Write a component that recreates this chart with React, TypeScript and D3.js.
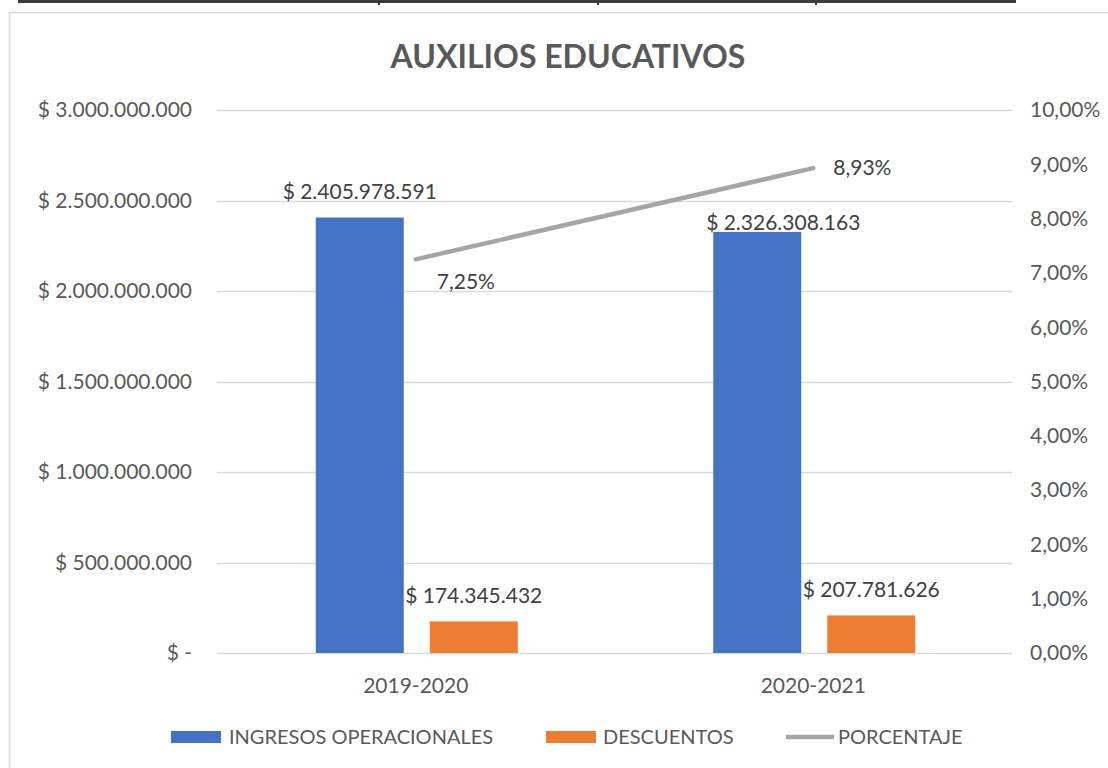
import React from "react";
import * as d3 from "d3";

const categories = ["2019-2020", "2020-2021"];
const ingresos = [2405978591, 2326308163];
const descuentos = [174345432, 207781626];
const porcentaje = [0.0725, 0.0893];
const leftTicks = [0, 500000000, 1000000000, 1500000000, 2000000000, 2500000000, 3000000000];
const rightTicks = [0, 0.01, 0.02, 0.03, 0.04, 0.05, 0.06, 0.07, 0.08, 0.09, 0.1];
const seriesNames = ["INGRESOS OPERACIONALES", "DESCUENTOS", "PORCENTAJE"];
const title = "AUXILIOS EDUCATIVOS";

const W = 1108;
const H = 768;
const FONT = "Lato, 'Open Sans', sans-serif";
const BLUE = "#4472c4";
const ORANGE = "#ed7d31";
const GRAY = "#a5a5a5";
const GRID = "#d9d9d9";
const TXT = "#595959";
const LBL = "#404040";

const plot = { left: 217, right: 1012, top: 110, bottom: 653 };

const fmtMoney = (v: number) => {
  if (v === 0) return "$ -";
  const s = Math.round(v).toString().replace(/\B(?=(\d{3})+(?!\d))/g, ".");
  return "$ " + s;
};
const fmtPct = (v: number) => (v * 100).toFixed(2).replace(".", ",") + "%";

// per-label placement tweaks (as in the original Excel rendering)
const ingLabelOffset = [
  { dx: 0, dy: -19 },
  { dx: 26, dy: -2 },
];
const pctLabelOffset = [
  { dx: 21, dy: 22, anchor: "start" },
  { dx: 20, dy: 0, anchor: "start" },
];

export default function App() {
  const x = d3.scaleBand<string>().domain(categories).range([plot.left, plot.right]).padding(0);
  const groupW = 202;
  const x1 = d3.scaleBand<string>().domain(["ing", "desc"]).range([0, groupW]).paddingInner(0.228);
  const y = d3.scaleLinear().domain([0, 3000000000]).range([plot.bottom, plot.top]);
  const y2 = d3.scaleLinear().domain([0, 0.1]).range([plot.bottom, plot.top]);

  const groupStart = (c: string) => (x(c) as number) + (x.bandwidth() - groupW) / 2 + 1;
  const cx = (c: string) => (x(c) as number) + x.bandwidth() / 2;

  const line = d3
    .line<number>()
    .x((_, i) => cx(categories[i]))
    .y((d) => y2(d));

  return (
    <svg
      width={W}
      height={H}
      style={{ position: "fixed", left: 0, top: 0, background: "#fff" }}
      fontFamily={FONT}
    >
      <rect x={0} y={0} width={W} height={H} fill="#fff" />
      {/* table edge above the chart */}
      <rect x={18} y={0} width={998} height={3} fill="#3a3a3a" />
      {[378, 597, 815].map((tx) => (
        <rect key={tx} x={tx} y={0} width={2} height={5} fill="#3a3a3a" />
      ))}
      {/* chart frame */}
      <rect x={9.5} y={12.5} width={1200} height={900} fill="#fff" stroke={GRID} strokeWidth={1.5} />

      <text x={568} y={68} textAnchor="middle" fontSize={32} fontWeight={700} fill={TXT}>
        {title}
      </text>

      {/* gridlines */}
      {leftTicks.map((t) => (
        <line key={t} x1={plot.left} x2={plot.right} y1={Math.round(y(t)) + 0.5} y2={Math.round(y(t)) + 0.5} stroke={GRID} strokeWidth={1.5} />
      ))}

      {/* left axis labels */}
      {leftTicks.map((t) => (
        <text key={"l" + t} x={192} y={y(t)} dy="0.35em" textAnchor="end" fontSize={21} fill={TXT}>
          {fmtMoney(t)}
        </text>
      ))}
      {/* right axis labels */}
      {rightTicks.map((t) => (
        <text key={"r" + t} x={1030} y={y2(t)} dy="0.35em" textAnchor="start" fontSize={21} fill={TXT}>
          {fmtPct(t)}
        </text>
      ))}

      {/* bars */}
      {categories.map((c, i) => {
        const gs = groupStart(c);
        const xi = gs + (x1("ing") as number);
        const xd = gs + (x1("desc") as number);
        const bw = x1.bandwidth();
        return (
          <g key={c}>
            <rect x={xi} y={y(ingresos[i])} width={bw} height={y(0) - y(ingresos[i])} fill={BLUE} />
            <rect x={xd} y={y(descuentos[i])} width={bw} height={y(0) - y(descuentos[i])} fill={ORANGE} />
          </g>
        );
      })}

      {/* percentage line */}
      <path d={line(porcentaje) || ""} fill="none" stroke={GRAY} strokeWidth={4.5} strokeLinecap="round" />

      {/* data labels */}
      {categories.map((c, i) => {
        const gs = groupStart(c);
        const bw = x1.bandwidth();
        const ci = gs + (x1("ing") as number) + bw / 2;
        const cd = gs + (x1("desc") as number) + bw / 2;
        return (
          <g key={"lbl" + c} fontSize={21} fill={LBL}>
            <text x={ci + ingLabelOffset[i].dx} y={y(ingresos[i]) + ingLabelOffset[i].dy} textAnchor="middle">
              {fmtMoney(ingresos[i])}
            </text>
            <text x={cd} y={y(descuentos[i]) - 18} textAnchor="middle">
              {fmtMoney(descuentos[i])}
            </text>
            <text
              x={cx(c) + pctLabelOffset[i].dx}
              y={y2(porcentaje[i]) + pctLabelOffset[i].dy}
              dy="0.35em"
              textAnchor={pctLabelOffset[i].anchor}
            >
              {fmtPct(porcentaje[i])}
            </text>
          </g>
        );
      })}

      {/* category labels */}
      {categories.map((c) => (
        <text key={"c" + c} x={cx(c)} y={686} dy="0.35em" textAnchor="middle" fontSize={21} fill={TXT}>
          {c}
        </text>
      ))}

      {/* legend */}
      <g fontSize={20} fill={TXT}>
        <rect x={171} y={731} width={50} height={12} fill={BLUE} />
        <text x={229} y={737} dy="0.35em">{seriesNames[0]}</text>
        <rect x={546} y={731} width={50} height={12} fill={ORANGE} />
        <text x={603} y={737} dy="0.35em">{seriesNames[1]}</text>
        <line x1={786} x2={834} y1={737} y2={737} stroke={GRAY} strokeWidth={4.5} />
        <text x={838} y={737} dy="0.35em">{seriesNames[2]}</text>
      </g>
    </svg>
  );
}
